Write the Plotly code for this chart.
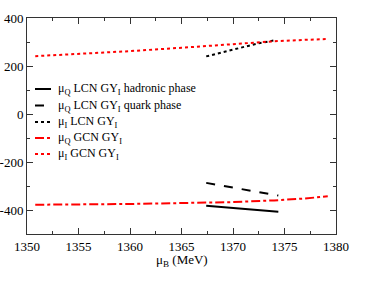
import plotly.graph_objects as go

# data
x_had = [1367.4, 1374.4]
y_had = [-382, -407]
x_quark = [1367.4, 1374.4]
y_quark = [-287, -340]
x_i_lcn = [1367.4, 1369.0, 1371.0, 1372.5, 1374.2]
y_i_lcn = [240, 257, 279, 295, 308]
x_q_gcn = [1350.8, 1355, 1360, 1365, 1370, 1374, 1377, 1379.2]
y_q_gcn = [-378, -377, -375, -371, -367, -360, -352, -343]
x_i_gcn = [1350.8, 1355, 1360, 1365, 1370, 1374, 1377, 1379.0]
y_i_gcn = [241, 250, 262, 276, 292, 303, 309, 312]

y_tickvals = [-400, -200, 0, 200, 400]
y_ticktext = ["-400", "-200", "0", "200", "400"]
x_tickvals = [1350, 1355, 1360, 1365, 1370, 1375, 1380]
x_ticktext = ["1350", "1355", "1360", "1365", "1370", "1375", "1380"]

names = [
    "μ<sub>Q</sub> LCN GY<sub>I</sub> hadronic phase",
    "μ<sub>Q</sub> LCN GY<sub>I</sub> quark phase",
    "μ<sub>I</sub> LCN GY<sub>I</sub>",
    "μ<sub>Q</sub> GCN GY<sub>I</sub>",
    "μ<sub>I</sub> GCN GY<sub>I</sub>",
]
x_title = "μ<sub>B</sub> (MeV)"
colors = ["black", "black", "black", "red", "red"]
dashes = ["solid", "dash", "dot", "dashdot", "dot"]
series = [(x_had, y_had), (x_quark, y_quark), (x_i_lcn, y_i_lcn),
          (x_q_gcn, y_q_gcn), (x_i_gcn, y_i_gcn)]

W, H = 381, 281
ML, MR, MT, MB = 27, 45, 18, 47
PW, PH = W - ML - MR, H - MT - MB
SERIF = "Liberation Serif, Times New Roman, serif"

fig = go.Figure()
for (xs, ys), nm, c, d in zip(series, names, colors, dashes):
    fig.add_trace(go.Scatter(x=xs, y=ys, mode="lines", name=nm, showlegend=False,
                             line=dict(color=c, width=2, dash=d)))

# manual legend (layout only)
def px2paper_x(px):
    return (px - ML) / PW

def px2paper_y(py):
    return 1 - (py - MT) / PH

row_y = [89, 105.5, 122, 138, 154]
for ry, nm, c, d in zip(row_y, names, colors, dashes):
    yy = px2paper_y(ry)
    fig.add_shape(type="line", xref="paper", yref="paper",
                  x0=px2paper_x(35), x1=px2paper_x(51), y0=yy, y1=yy,
                  line=dict(color=c, width=2, dash=d))
    fig.add_annotation(xref="paper", yref="paper", x=px2paper_x(56), y=yy,
                       xanchor="left", yanchor="middle", showarrow=False,
                       text=nm, font=dict(family=SERIF, size=12, color="black"))

# x-axis title as annotation
fig.add_annotation(xref="paper", yref="paper", x=0.5, y=px2paper_y(249.5),
                   xanchor="center", yanchor="top", showarrow=False,
                   text=x_title, font=dict(family=SERIF, size=13, color="black"))

axis_common = dict(
    showline=True, linecolor="#333", linewidth=1, mirror="allticks",
    ticks="inside", ticklen=6, tickcolor="#333", showgrid=False, zeroline=False,
    automargin=False,
    tickfont=dict(family=SERIF, size=13, color="black"),
)
fig.update_xaxes(range=[1350, 1380], tickvals=x_tickvals, ticktext=x_ticktext,
                 minor=dict(ticks="inside", ticklen=3, dtick=2.5, tick0=1350, tickcolor="#333"),
                 **axis_common)
fig.update_yaxes(range=[-500, 400], tickvals=y_tickvals, ticktext=y_ticktext,
                 minor=dict(ticks="inside", ticklen=3, dtick=100, tick0=0, tickcolor="#333"),
                 **axis_common)
fig.update_layout(
    width=W, height=H,
    margin=dict(l=ML, r=MR, t=MT, b=MB),
    plot_bgcolor="white", paper_bgcolor="white",
    font=dict(family=SERIF, size=13, color="black"),
    showlegend=False,
)
fig.write_html("out.html", config={"displayModeBar": False},
               post_script="document.body.style.margin='0';document.body.style.padding='0';")
